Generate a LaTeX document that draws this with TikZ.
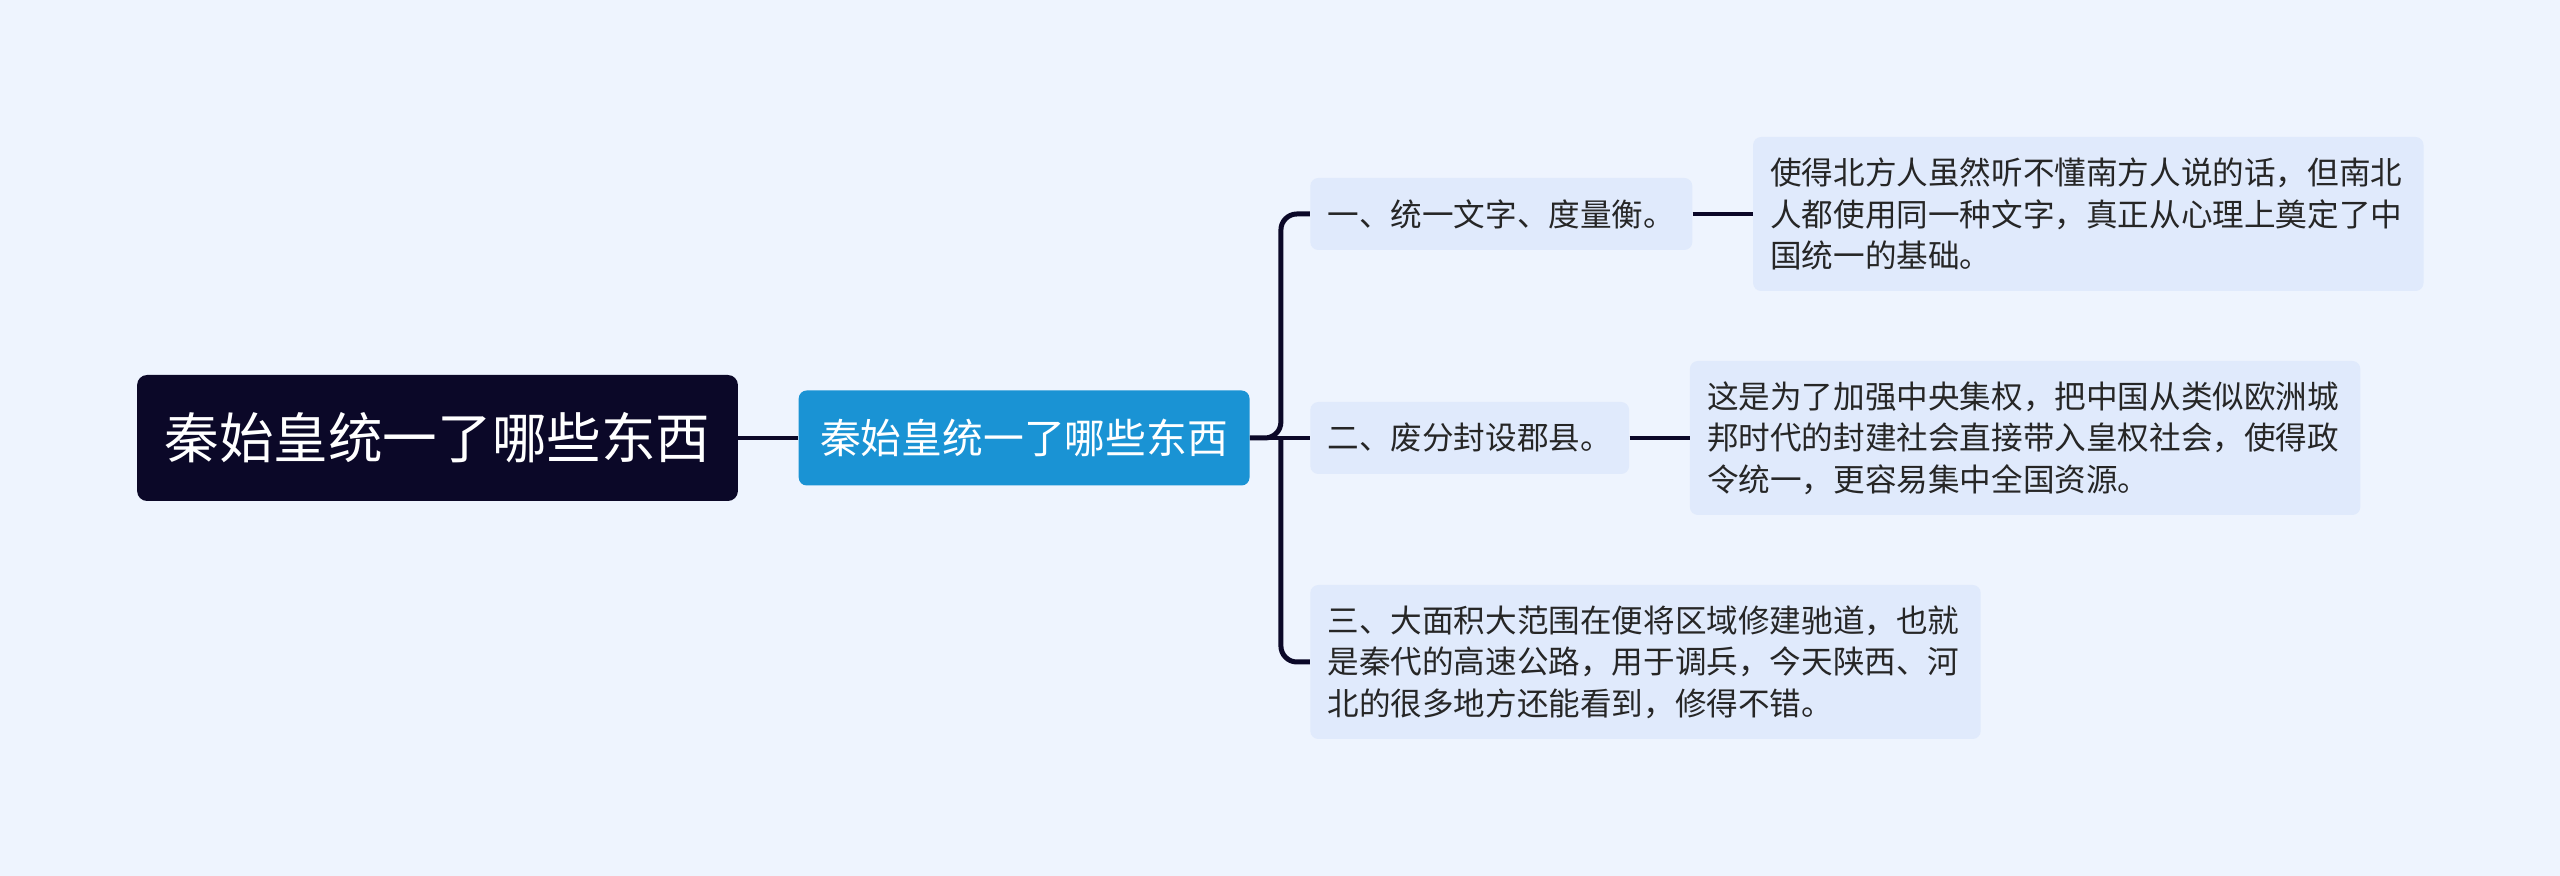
\documentclass[tikz,border=0pt]{standalone}
\usepackage{fontspec}
\setmainfont{Noto Sans CJK SC}
\usepackage{tikz}
\usetikzlibrary{positioning}

\definecolor{pagebg}{HTML}{EEF4FE}
\definecolor{rootfill}{HTML}{0B0828}
\definecolor{mainfill}{HTML}{1A93D4}
\definecolor{leaffill}{HTML}{E0EAFC}
\definecolor{linkcol}{HTML}{0B0828}

\begin{document}
\begin{tikzpicture}[node distance=30pt,
    rootbox/.style={fill=rootfill, text=white, rounded corners=5pt, inner xsep=13.7pt,
        minimum height=63pt, font=\fontsize{27.3}{32}\selectfont},
    mainbox/.style={fill=mainfill, text=white, rounded corners=4pt, inner xsep=10.7pt,
        minimum height=47.5pt, font=\fontsize{20.4}{24}\selectfont},
    leafbox/.style={fill=leaffill, text=black!85, rounded corners=4pt, inner xsep=8.6pt,
        minimum height=36pt, font=\fontsize{15.8}{20.8}\selectfont},
    notebox/.style={leafbox, text width=318pt, align=left, minimum height=77pt},
    link/.style={draw=linkcol, line width=2.4pt},
    trunk/.style={draw=linkcol, line width=2.5pt, rounded corners=8pt},
  ]
    \fill[pagebg] (0,0) rectangle (1280pt,438pt);

    \node[rootbox] (root) at (218.75pt,219pt) {秦始皇统一了哪些东西};
    \node[mainbox] (main) [right=of root] {秦始皇统一了哪些东西};
    \node[leafbox] (c1) [right=of main, yshift=112pt] {一、统一文字、度量衡。};
    \node[leafbox] (c2) [right=of main] {二、废分封设郡县。};
    \node[notebox] (c3) [right=of main, yshift=-112pt]
        {三、大面积大范围在便将区域修建驰道，也就\\是秦代的高速公路，用于调兵，今天陕西、河\\北的很多地方还能看到，修得不错。};
    \node[notebox] (d1) [right=of c1]
        {使得北方人虽然听不懂南方人说的话，但南北\\人都使用同一种文字，真正从心理上奠定了中\\国统一的基础。};
    \node[notebox] (d2) [right=of c2]
        {这是为了加强中央集权，把中国从类似欧洲城\\邦时代的封建社会直接带入皇权社会，使得政\\令统一，更容易集中全国资源。};

    \coordinate[right=15.5pt of main] (fork);

    \draw[link] (root) -- (main);
    \draw[trunk] (main.east) -- (fork) |- (c1.west);
    \draw[trunk] (fork) |- (c3.west);
    \draw[link] (main) -- (c2);
    \draw[link] (c1) -- (d1);
    \draw[link] (c2) -- (d2);
\end{tikzpicture}
\end{document}
